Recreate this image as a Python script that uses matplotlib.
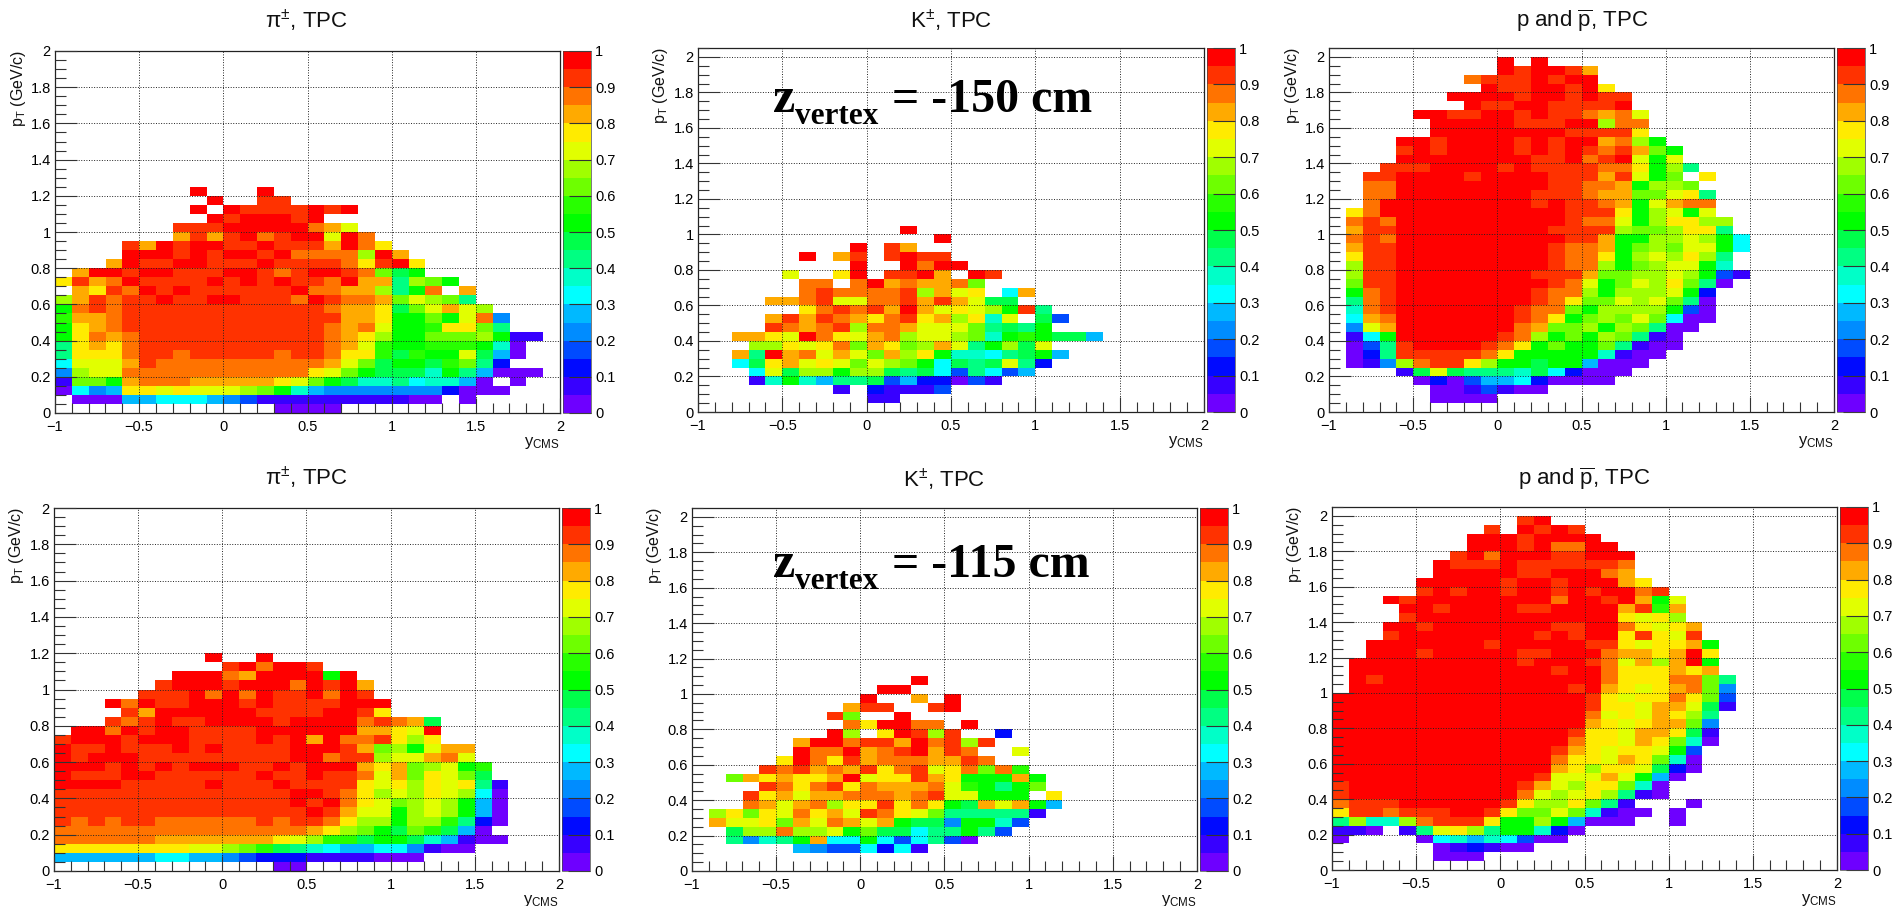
### efficiency maps in (y_CMS, pT), two vertex positions, three species
### each row below is one pT bin (0.05 wide, top row first, last row is 0-0.05)
### each character is one y bin (0.1 wide, starting at y=-1), '.' means empty
### 0-9 and a-j are the 20 colour classes of 0.05 each

import numpy as np
import matplotlib
matplotlib.use("Agg")
from matplotlib import pyplot as plt
from matplotlib.colors import ListedColormap, BoundaryNorm
from matplotlib.cm import ScalarMappable

plt.rcParams['font.family'] = ['Liberation Sans', 'DejaVu Sans']
plt.rcParams['mathtext.default'] = 'regular'

classes = "0123456789abcdefghij"

pi_150 = [
"........j...j",
".........j..ii",
"........j.jiiiijij",
".........jijjjij",
".......iiijjjjjhge",
".......gigijhijjejh",
"....igjijjiijiiigjhf",
"....jjjijijjijhhhhdjg",
"...gjiijjiiijiiiihfijf",
".gjjijjiiijjihijjihc9a",
"fighjiiiijijijiihjgg8dca",
".gfihjijiiiiiijhhggd8ah.g",
"dgihiijiijjiiihjihhgcedc8",
"ahihiiiiiiiiiiiihggf9ceged",
"bgghiiiiiiiiiiiiiggfaacaeh4",
"afghiiiiiiiiiiiihgheaabffc8",
"afhghiiiiiiiiiiihgfdaacccda11",
"8fgfhiiiiiiiiiiihgebaabbba70",
"8fffhiihiiiiihiihffb9baae950",
"6eeegihhhhhhhhhhgec9aa9bc82",
"4deehhhhhhhhhhhfeca9997a85000",
"1ccaghhhgggggfeca977867750.0",
"0645ffefeeedca7544444442000",
".0005566654311111111100.0",
".............0000",
]

k_150 = [
"............j",
"..............j",
".........j.ig",
"......j.gi.ijii",
".........j..jhjj",
".....e..fj.iijg.ji",
"......hh.hjghgghc",
"......hihhhhidgef.6g",
"....gghieehhigige99",
"......fhihigjgefedai8",
"....gigihgfhifgdf7e.93",
"....ihghidhhgeeec898a",
"..ggfejhfeghdeedc7aba995",
"...ddfefhcgfcdge8ad9e",
"..g8jghegecgdfa77689a5",
"..69fgefecedca6989e82",
"...6e9ddadd989638635",
"...17a758893522031",
"........1.21113",
"..........11",
"",
]

p_150 = [
"..........j.j",
"..........jijjig",
"........hiiijijj",
".........jiijjijf",
".......jjjjijjijii",
"........jiijjiiiij",
".....jjiijjijiihghe",
"......jjjjjiiijjdhh",
"......jjjjjjjjiiiif",
"....jjijjjjijijjghda",
"....ijijjjjijijihigca",
"....jjjjjjjjiijhijeae",
"...iiijjjjijiiiihhfad8",
"..iijjjjijjjjiiigieac.f",
"..hhjjjjjjjjjiihhgaddc",
"..hhjjjjjjjjiiihggccef8",
"..hjjjjjjjjjijiihgaeghh",
".fhjjjjjjjjjjjiiifadeae",
".hihjjjjjjjjjjihheadffdd",
".giijjjjjjjjjiiiidccdff8",
".hihjjjjjjjjjjiigaaddeda6",
".giijjjjjjjjjihhgacdceea6",
".fiijjjjjjjjjihhfadedfd8",
".diijjjjjjjjjihhdacdeea7",
".diijjjjjjjjiiigccddeda31",
".ciijjjjjjjjjiheacedfc80",
".ahijjjjjjjjihhdadddea2",
".8hijjjjjjjjihfccedec80",
".7hijjjjjjjihhcadddda30",
".6ghjjjjjjjihfacdcec600",
".4egjjjjjjjhgccdadc800",
".16ajjjjjjihdacadc810",
".038ijjjjihfacaac8100",
".028iiiiihfaaaaa7100",
".014dhiifdaa9aa5000",
"....19e98887962000",
".....020355620000",
"......0013100",
"......0000",
"",
]

pi_115 = [
".........j..j",
"..........ijhjji",
".......jjjhgjjjjaj",
"......ijjjijjjhjijg",
".....iiijhjhjiijhji",
"...jhjiijjjijiiiijjj",
"....igjjjjjjiiiijjif",
"...ihijiijjjjijjjjhihg9",
".jjhjijjiiiijjjjjjggfej",
"ijjjijjjiiiijijgjhhifdf",
"jiijiiijijiiiijjjigcdaegg",
"jijjjiiiiiiiiijjhiideeghe",
"jjjijijijjjiijijjjgfgcdeab",
"jiiijjiiiiiijiijiihegcfec9",
"jjjjiiiiijiiijiiiifefdfef81",
"iiiiiiiiiiiiiijjihfdedfed60",
"iiiiiiiiiiiiiijijhfecdeda50",
"iiiiiiiiiiiiiiijigeeadeda50",
"ihihiihhhhhhihiihfddaddb820",
"hhhhhhhhhhhhhhhgfdca9cb950",
"hhhhhhgggggggfedbb9aa975100",
"ffffffffeedcb987655664100",
"5555556655432221111000",
".............00",
]

k_115 = [
".............j",
"...........jj",
"..........j..g.j",
".........gii..ij",
"........ic..j",
".........hfjjhh.j",
"........jd.fjidi..2",
"......gjjhiigjhidi",
"......jhhjghijgih..e",
".....fjhfighhhggih",
"....ihighgifhiefhchb",
"..cgfgffgjeffigfaaaga",
"....ihfhifhgggheba8ac",
"...ifgegghhhghieeaaa.f",
"...hgeghdffifhfa9gega5",
".dfcfehfgeihfec888881",
".geefcgehgega994aa73",
"..9ddhddeac99688a83",
"..8478ag66a636830",
"......54336261",
"",
"",
]

p_115 = [
"...........ij",
".........i.jiji",
"........jjjijjjj",
"........jjjijhhjj",
".......ijhjjjiijjj",
"......jiiijiiiiiih",
"......jjjjjiijjjhg",
".....jjjjjijjijjjgf",
".....ijijjijjijijjhi",
"...jijjjjjjjjhjjijgae",
"....jjijjjjiijjjjgibg",
"....ijjjjjjjjjjjjfefd",
"...jjijjjjjjjiijjhfefg",
"...ijjjjjjjjijijjfifei",
"..jjjjjjjijjjjjiifeffga",
"..jjjijjjjjiijjjhggfgjf",
".jjjjjjjjjjijjjihegdgja",
".jjjjjjjjjjjjijjhfffgfg",
".jijjjjjjjjjjjjjhfffhhc8",
".jjjjjjjjjjjjjijgfefghc4",
"jjjjjjjjjjjjjjjifeffhfc3",
"jjjjjjjjjjjjjjjiffegge91",
"jjjjjjjjjjjjjjjhefegfd8",
"jjjjjjjjjjjjjjjgfefggc4",
"jjjjjjjjjjjjjjiffeggf91",
"jjjjjjjjjjjjjjhffegfc70",
"jjjjjjjjjjjjjigfeffea3",
"jjjjjjjjjjjjjhffegfc70",
"jjjjjjjjjjjjjgfdffe920",
"jjjjjjjjjjjjieeegea50",
"ijjjjjjjjjjigedffc70",
"ijjjjjjjjjjhedefd810",
"hiiijjjjjjifddfc81...0",
"fiihiiijjifccec7100.0",
"8d77dhiiifaada5000..0",
"110.18efd8aa720",
"0....067576300",
"......012100",
"......000",
"",
]

palette = [(110,0,255),(55,0,255),(0,10,255),(0,75,255),(0,140,255),(0,185,255),(0,255,255),
           (0,255,200),(0,255,130),(0,255,75),(0,255,0),(40,255,0),(110,255,0),(160,255,0),
           (225,255,0),(255,235,0),(255,170,0),(255,115,0),(255,50,0),(255,0,0)]

x_ticks = [-1, -0.5, 0, 0.5, 1, 1.5, 2]
x_labels = ["\u22121", "\u22120.5", "0", "0.5", "1", "1.5", "2"]
y_ticks = [0, 0.2, 0.4, 0.6, 0.8, 1, 1.2, 1.4, 1.6, 1.8, 2]
y_labels = ["0", "0.2", "0.4", "0.6", "0.8", "1", "1.2", "1.4", "1.6", "1.8", "2"]
cb_ticks = [0, 0.1, 0.2, 0.3, 0.4, 0.5, 0.6, 0.7, 0.8, 0.9, 1]
cb_labels = ["0", "0.1", "0.2", "0.3", "0.4", "0.5", "0.6", "0.7", "0.8", "0.9", "1"]

W, H = 1895, 906
fig = plt.figure(figsize=(W / 100, H / 100), dpi=100)

cmap = ListedColormap([(r / 255, g / 255, b / 255) for r, g, b in palette])
cmap.set_bad((1, 1, 1, 0))
bounds = np.linspace(0, 1, 21)
norm = BoundaryNorm(bounds, 20)


def pixel_axes(left, right, top, bottom):
    return fig.add_axes([left / W, 1 - bottom / H, (right - left) / W, (bottom - top) / H])


def decode(rows):
    grid = np.full((41, 30), np.nan)
    for i, row in enumerate(reversed(rows)):
        for j, c in enumerate(row):
            if c != '.':
                grid[i, j] = (classes.index(c) + 0.5) / 20
    return grid


def fig_text(px, py, s, **kw):
    return fig.text(px / W, 1 - py / H, s, **kw)


def panel(rows, box, cbox, ymax, title, title_pos):
    ax = pixel_axes(*box)
    x_edges = np.linspace(-1, 2, 31)
    y_edges = np.linspace(0, 2.05, 42)
    ax.pcolormesh(x_edges, y_edges, np.ma.masked_invalid(decode(rows)), cmap=cmap, norm=norm,
                  antialiased=False, linewidth=0)
    ax.set_xlim(-1, 2)
    ax.set_ylim(0, ymax)
    ax.set_xticks(x_ticks, x_labels)
    ax.set_yticks(y_ticks, y_labels)
    ax.set_xticks(np.arange(-1, 2.01, 0.1), minor=True)
    ax.set_yticks(np.arange(0, ymax + 0.001, 0.05), minor=True)
    ax.tick_params(axis='x', which='major', direction='in', length=11, width=0.8, labelsize=10.5, pad=5, color='#333333')
    ax.tick_params(axis='x', which='minor', direction='in', length=7, width=0.8, color='#333333')
    ax.tick_params(axis='y', which='major', direction='in', length=16, width=0.8, labelsize=10.5, pad=3, color='#333333')
    ax.tick_params(axis='y', which='minor', direction='in', length=8, width=0.8, color='#333333')
    ax.grid(True, which='major', color='#222222', linestyle=':', linewidth=0.7)
    ax.set_axisbelow(False)
    for s in ax.spines.values():
        s.set_linewidth(0.9)
        s.set_color('#222222')

    cax = pixel_axes(*cbox)
    cb = fig.colorbar(ScalarMappable(norm=norm, cmap=cmap), cax=cax, boundaries=bounds, spacing='proportional')
    cb.set_ticks(cb_ticks, labels=cb_labels)
    cb.minorticks_off()
    cax.tick_params(direction='in', length=16, width=0.8, labelsize=10.5, pad=3, color='#333333')
    cb.outline.set_linewidth(0.5)
    cb.outline.set_edgecolor('#444444')

    left, right, top, bottom = box
    fig_text(title_pos[0], title_pos[1], title, ha='center', va='center', fontsize=16, color='#111111')
    fig_text(right, bottom + 22, r"y$_{CMS}$", ha='right', va='top', fontsize=12, color='#111111')
    fig_text(left - 37, top - 1, r"p$_{T}$ (GeV/c)", ha='center', va='top', rotation=90, fontsize=11.5, color='#111111')


def vertex_label(x, y, value):
    fig_text(x, y, "z", family='Liberation Serif', fontweight='bold', fontsize=36, va='baseline', color='black')
    fig_text(x + 22, y + 12, "vertex", family='Liberation Serif', fontweight='bold', fontsize=22.5, va='baseline', color='black')
    fig_text(x + 119, y, "= " + value + " cm", family='Liberation Serif', fontweight='bold', fontsize=34.5, va='baseline', color='black')


panel(pi_150, (55, 560, 51, 413), (563, 591, 51, 413), 2.0, "\u03c0$^{\\pm}$, TPC", (306, 21))
panel(k_150, (698, 1204, 48, 412), (1207, 1235, 48, 412), 2.05, "K$^{\\pm}$, TPC", (951, 21))
panel(p_150, (1329, 1834, 48, 412), (1837, 1865, 48, 412), 2.05, "p and $\\overline{p}$, TPC", (1582, 21))
panel(pi_115, (54, 559, 508, 871), (562, 590, 508, 871), 2.0, "\u03c0$^{\\pm}$, TPC", (306, 478))
panel(k_115, (692, 1197, 508, 871), (1200, 1228, 508, 871), 2.05, "K$^{\\pm}$, TPC", (944, 480))
panel(p_115, (1332, 1837, 507, 870), (1840, 1868, 507, 870), 2.05, "p and $\\overline{p}$, TPC", (1584, 479))

vertex_label(773, 112, "-150")
vertex_label(773, 577, "-115")

fig.savefig("out.png", dpi=100)
